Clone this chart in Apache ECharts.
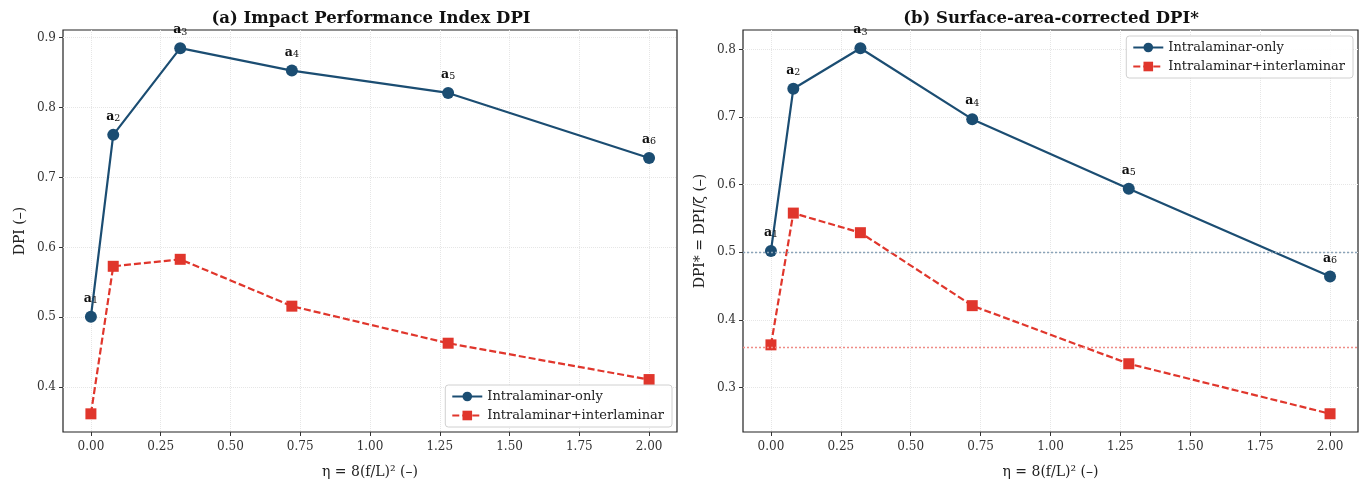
<!DOCTYPE html>
<html>
<head>
<meta charset="utf-8">
<script src="https://cdn.jsdelivr.net/npm/echarts@6/dist/echarts.min.js"></script>
<style>
  html, body { margin: 0; padding: 0; background: #fff; }
  #chart { width: 1369px; height: 488px; }
</style>
</head>
<body>
<div id="chart"></div>
<script>
// eta = 8 (f/L)^2
var eta = [0, 0.08, 0.32, 0.72, 1.28, 2.0];
var dpiIntra = [0.501, 0.761, 0.885, 0.853, 0.821, 0.728];
var dpiInter = [0.362, 0.573, 0.583, 0.516, 0.463, 0.411];
var dpiStarIntra = [0.502, 0.742, 0.802, 0.697, 0.594, 0.464];
var dpiStarInter = [0.363, 0.558, 0.529, 0.421, 0.335, 0.261];
var xTicks = [0, 0.25, 0.5, 0.75, 1.0, 1.25, 1.5, 1.75, 2.0];
var yTicksA = [0.4, 0.5, 0.6, 0.7, 0.8, 0.9];
var yTicksB = [0.3, 0.4, 0.5, 0.6, 0.7, 0.8];

var BLUE = '#1b4d72';
var RED = '#e0362c';
var FONT = 'DejaVu Serif';

function pairs(xs, ys) {
  return xs.map(function (x, i) { return [x, ys[i]]; });
}

var pointLabel = {
  show: true,
  position: 'top',
  distance: 5,
  formatter: function (p) { return '{a|a}{s|' + (p.dataIndex + 1) + '}'; },
  rich: {
    a: { fontFamily: FONT, fontWeight: 'bold', fontSize: 12.5, color: '#111', lineHeight: 14 },
    s: { fontFamily: FONT, fontSize: 9.5, color: '#111', verticalAlign: 'bottom', lineHeight: 9 }
  }
};

function xAxis(idx) {
  return {
    type: 'value', gridIndex: idx, min: -0.1, max: 2.1,
    name: 'η = 8(f/L)² (–)', nameLocation: 'middle', nameGap: 33,
    nameTextStyle: { fontFamily: FONT, fontSize: 14, color: '#222' },
    axisLine: { show: false, onZero: false },
    axisTick: { show: true, length: 4, customValues: xTicks, lineStyle: { color: '#333' } },
    axisLabel: { customValues: xTicks, fontFamily: FONT, fontSize: 12, color: '#333', margin: 9,
      formatter: function (v) { return v.toFixed(2); } },
    splitLine: { show: true, lineStyle: { color: '#e6e6e6', type: 'dotted' } }
  };
}

function yAxis(idx, lo, hi, ticks, name, gap) {
  return {
    type: 'value', gridIndex: idx, min: lo, max: hi,
    name: name, nameLocation: 'middle', nameGap: gap,
    nameTextStyle: { fontFamily: FONT, fontSize: 14, color: '#222' },
    axisLine: { show: false, onZero: false },
    axisTick: { show: true, length: 4, customValues: ticks, lineStyle: { color: '#333' } },
    axisLabel: { customValues: ticks, fontFamily: FONT, fontSize: 12, color: '#333', margin: 7,
      formatter: function (v) { return v.toFixed(1); } },
    splitLine: { show: true, lineStyle: { color: '#e6e6e6', type: 'dotted' } }
  };
}

function blueSeries(idx, ys) {
  return {
    name: 'Intralaminar-only', type: 'line', xAxisIndex: idx, yAxisIndex: idx,
    data: pairs(eta, ys), symbol: 'circle', symbolSize: 12,
    lineStyle: { color: BLUE, width: 2.2 }, itemStyle: { color: BLUE },
    label: pointLabel, z: 3
  };
}

function redSeries(idx, ys) {
  return {
    name: 'Intralaminar+interlaminar', type: 'line', xAxisIndex: idx, yAxisIndex: idx,
    data: pairs(eta, ys), symbol: 'rect', symbolSize: 11,
    lineStyle: { color: RED, width: 2.2, type: [7, 3] }, itemStyle: { color: RED }, z: 2
  };
}

var legendBase = {
  orient: 'vertical', backgroundColor: 'rgba(255,255,255,0.9)',
  borderColor: '#d0d0d0', borderWidth: 1, borderRadius: 3,
  padding: [5, 8, 5, 6], itemGap: 6, itemWidth: 30, itemHeight: 12,
  textStyle: { fontFamily: FONT, fontSize: 13, color: '#222' },
  data: ['Intralaminar-only', 'Intralaminar+interlaminar']
};

var chart = echarts.init(document.getElementById('chart'));

// dotted reference lines at the η = 0 values (panel b)
var blue2 = blueSeries(1, dpiStarIntra);
blue2.markLine = {
  silent: true, symbol: 'none', label: { show: false },
  data: [{ yAxis: dpiStarIntra[0], lineStyle: { color: '#8aa3b8', type: [2, 2], width: 1.3 } }]
};
var red2 = redSeries(1, dpiStarInter);
red2.markLine = {
  silent: true, symbol: 'none', label: { show: false },
  data: [{ yAxis: dpiStarInter[0], lineStyle: { color: '#ef8c86', type: [2, 2], width: 1.3 } }]
};

chart.setOption({
  animation: false,
  title: [
    { text: '(a) Impact Performance Index DPI', left: 366, top: 5, textAlign: 'center',
      textStyle: { fontFamily: FONT, fontWeight: 'bold', fontSize: 16.5, color: '#111' } },
    { text: '(b) Surface-area-corrected DPI*', left: 1046, top: 5, textAlign: 'center',
      textStyle: { fontFamily: FONT, fontWeight: 'bold', fontSize: 16.5, color: '#111' } }
  ],
  legend: [
    Object.assign({}, legendBase, { right: 697, bottom: 61 }),
    Object.assign({}, legendBase, { right: 16, top: 36 })
  ],
  grid: [
    { left: 63, right: 692, top: 30, bottom: 56, show: true, borderColor: '#222', borderWidth: 1.2 },
    { left: 743, right: 11, top: 30, bottom: 56, show: true, borderColor: '#222', borderWidth: 1.2 }
  ],
  xAxis: [xAxis(0), xAxis(1)],
  yAxis: [
    yAxis(0, 0.336, 0.911, yTicksA, 'DPI (–)', 36),
    yAxis(1, 0.234, 0.829, yTicksB, 'DPI* = DPI/ζ (–)', 36)
  ],
  series: [
    blueSeries(0, dpiIntra),
    redSeries(0, dpiInter),
    blue2,
    red2
  ]
});
</script>
</body>
</html>
